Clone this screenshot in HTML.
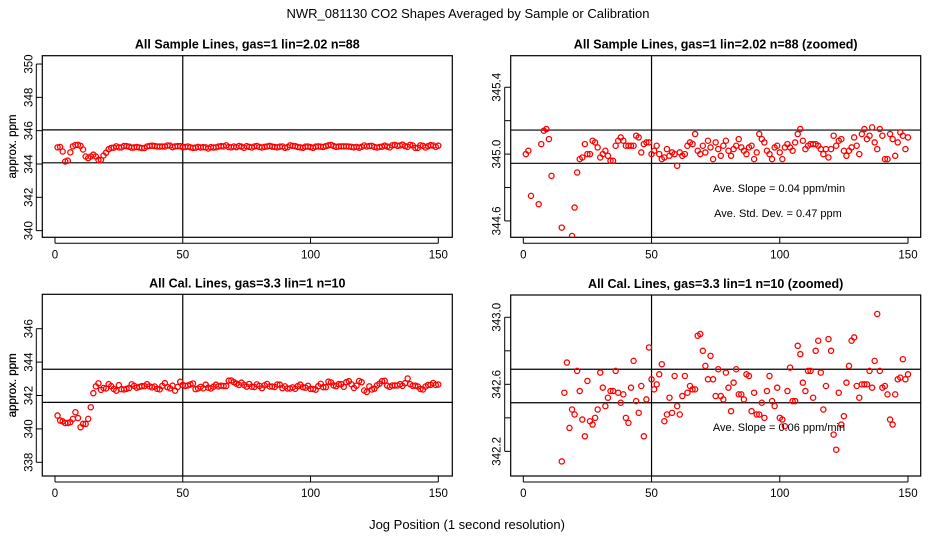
<!DOCTYPE html>
<html><head><meta charset="utf-8"><style>
html,body{margin:0;padding:0;background:#fff;width:936px;height:540px;overflow:hidden;position:relative}
svg{display:block;position:absolute;left:0;top:0;font-family:"Liberation Sans",sans-serif}
</style></head><body><svg id="chart" width="936" height="540" viewBox="0 0 936 540" xmlns="http://www.w3.org/2000/svg">
<text x="468" y="18" text-anchor="middle" font-size="13">NWR_081130  CO2 Shapes Averaged by Sample or Calibration</text>
<text x="467" y="529" text-anchor="middle" font-size="13">Jog Position (1 second resolution)</text>
<g id="plots"></g>
</svg><script>
const sampleValues=[345.00,345.02,344.75,344.15,344.20,344.70,345.06,345.14,345.15,345.09,344.87,344.45,344.35,344.45,344.56,344.45,344.25,344.25,344.51,344.68,344.89,344.97,344.98,345.06,345.00,345.00,345.08,345.07,345.04,344.98,345.00,345.02,344.99,344.96,344.96,345.05,345.08,345.10,345.08,345.05,345.05,345.05,345.05,345.11,345.10,345.01,345.06,345.07,345.07,345.00,345.02,345.05,345.00,344.97,344.98,345.03,344.99,345.01,345.00,344.93,345.01,344.99,345.00,345.05,345.07,345.06,345.12,345.02,345.00,345.05,345.01,345.08,345.04,344.97,345.07,345.03,344.99,345.05,345.08,345.02,344.99,345.03,345.05,345.09,345.04,345.02,345.00,345.04,345.05,344.97,345.01,345.12,345.09,345.07,345.02,345.00,344.97,345.04,345.05,345.01,344.97,345.04,345.06,345.04,345.02,345.07,345.12,345.15,345.08,345.03,345.05,345.06,345.06,345.06,345.05,345.03,345.00,345.03,344.98,345.03,345.11,345.05,345.08,345.09,345.02,344.99,345.02,345.04,345.10,345.05,345.00,345.12,345.15,345.09,345.11,345.16,345.07,345.03,345.15,345.11,344.97,344.97,345.12,345.09,344.99,345.07,345.13,345.11,345.03,345.10];
const calValues=[340.8,340.5,340.45,340.35,340.35,340.4,340.6,341.0,340.65,340.1,340.3,340.3,340.6,341.3,342.14,342.55,342.73,342.34,342.45,342.42,342.68,342.56,342.39,342.29,342.62,342.38,342.36,342.40,342.45,342.67,342.58,342.47,342.52,342.56,342.56,342.68,342.55,342.49,342.54,342.40,342.37,342.58,342.74,342.50,342.43,342.59,342.29,342.51,342.82,342.63,342.57,342.60,342.66,342.72,342.38,342.42,342.52,342.43,342.65,342.47,342.42,342.53,342.65,342.55,342.59,342.57,342.57,342.89,342.90,342.80,342.71,342.63,342.77,342.63,342.53,342.69,342.53,342.51,342.67,342.58,342.44,342.61,342.69,342.54,342.54,342.51,342.66,342.65,342.44,342.55,342.42,342.42,342.49,342.40,342.56,342.65,342.50,342.47,342.58,342.40,342.39,342.35,342.56,342.70,342.50,342.50,342.83,342.78,342.61,342.56,342.68,342.68,342.52,342.80,342.86,342.67,342.45,342.59,342.87,342.80,342.30,342.21,342.55,342.36,342.41,342.61,342.71,342.86,342.88,342.59,342.52,342.60,342.60,342.60,342.68,342.58,342.74,343.02,342.68,342.58,342.59,342.54,342.39,342.36,342.54,342.63,342.64,342.75,342.63,342.66];
const xTicks=[0,50,100,150];
const sampleTicks=[340,342,344,346,348,350];
const sampleZoomTicks=[344.6,344.8,345.0,345.2,345.4];
const sampleZoomLabels=["344.6","","345.0","","345.4"];
const calTicks=[338,340,342,344,346];
const calZoomTicks=[342.2,342.4,342.6,342.8,343.0];
const calZoomLabels=["342.2","","342.6","","343.0"];
const sampleHLines=[346.05,344.07];
const sampleZoomHLines=[345.144,344.945];
const calHLines=[343.57,341.59];
const calZoomHLines=[342.69,342.49];
const vLine=50;

const NS="http://www.w3.org/2000/svg";
const root=document.getElementById('plots');
function mk(tag,attrs,parent){const e=document.createElementNS(NS,tag);for(const k in attrs)e.setAttribute(k,attrs[k]);(parent||root).appendChild(e);return e;}

const panels=[
 {id:'sample',title:'All Sample Lines, gas=1 lin=2.02 n=88',box:[42.3,55.7,452.3,237.3],x0:55,x150:438.3,ylim:[339.6,350.5],ticks:sampleTicks,labels:sampleTicks.map(String),hl:sampleHLines,vals:sampleValues,notes:[]},
 {id:'sample-zoomed',title:'All Sample Lines, gas=1 lin=2.02 n=88 (zoomed)',box:[510.7,55.7,920.7,237.3],x0:523.3,x150:908,ylim:[344.502,345.589],ticks:sampleZoomTicks,labels:sampleZoomLabels,hl:sampleZoomHLines,vals:sampleValues,notes:[['Ave. Slope =  0.04  ppm/min',779,192],['Ave. Std. Dev. =  0.47  ppm',778,217]]},
 {id:'cal',title:'All Cal. Lines, gas=3.3 lin=1 n=10',box:[42.3,294.3,452.3,476],x0:55,x150:438.3,ylim:[337.18,348.06],ticks:calTicks,labels:calTicks.map(String),hl:calHLines,vals:calValues,notes:[]},
 {id:'cal-zoomed',title:'All Cal. Lines, gas=3.3 lin=1 n=10 (zoomed)',box:[510.7,295,920.7,476],x0:523.3,x150:908,ylim:[342.053,343.133],ticks:calZoomTicks,labels:calZoomLabels,hl:calZoomHLines,vals:calValues,notes:[['Ave. Slope =  0.06  ppm/min',779,431]]}
];

panels.forEach((p,pi)=>{
 const [l,t,r,b]=p.box;
 const xs=v=>p.x0+(v/150)*(p.x150-p.x0);
 const ys=v=>b-(v-p.ylim[0])/(p.ylim[1]-p.ylim[0])*(b-t);
 const g=mk('g',{});
 
 
 const ti=mk('text',{x:(l+r)/2,y:t-7,'text-anchor':'middle','font-size':12.5,'font-weight':'bold'},g);
 ti.textContent=p.title;
 
 
 const yl=mk('text',{transform:`translate(16,${(t+b)/2}) rotate(-90)`,'text-anchor':'middle','font-size':11.5},g);
 yl.textContent='approx. ppm';
 
 
 const clipId='clip'+pi;
 const cp=mk('clipPath',{id:clipId},g);
 mk('rect',{x:l,y:t,width:r-l,height:b-t},cp);
 p.ticks.forEach((v,i)=>{
  const y=ys(v);
  mk('line',{x1:l-6,x2:l,y1:y,y2:y,stroke:'#000','stroke-width':1},g);
  if(p.labels[i]){
   const tx=mk('text',{transform:`translate(${l-10},${y}) rotate(-90)`,'text-anchor':'middle','font-size':11.5},g);
   tx.textContent=p.labels[i];
   
   
  }
 });
 xTicks.forEach(v=>{
  const x=xs(v);
  mk('line',{x1:x,x2:x,y1:b,y2:b+6,stroke:'#000','stroke-width':1},g);
  const tx=mk('text',{x:x,y:b+21,'text-anchor':'middle','font-size':11.5},g);
  tx.textContent=String(v);
  
  
 });
 mk('line',{x1:xs(xTicks[0]),x2:xs(xTicks[xTicks.length-1]),y1:b+6,y2:b+6,stroke:'#000','stroke-width':1},g);
 mk('line',{x1:l-6,x2:l-6,y1:ys(p.ticks[0]),y2:ys(p.ticks[p.ticks.length-1]),stroke:'#000','stroke-width':1},g);
 const frame=mk('rect',{x:l,y:t,width:r-l,height:b-t,fill:'none',stroke:'#000','stroke-width':1.2},g);
 
 
 p.hl.forEach(v=>{
  const ln=mk('line',{x1:l,x2:r,y1:ys(v),y2:ys(v),stroke:'#000','stroke-width':1.2},g);
  
  
 });
 const vl=mk('line',{x1:xs(vLine),x2:xs(vLine),y1:t,y2:b,stroke:'#000','stroke-width':1.2},g);
 
 
 const pg=mk('g',{'clip-path':`url(#${clipId})`},g);
 p.vals.forEach((v,i)=>{
  const c=mk('circle',{cx:xs(i+1),cy:ys(v),r:2.6,fill:'none',stroke:'#f00','stroke-width':1.3},pg);
  
  
 });
 p.notes.forEach(n=>{
  const tx=mk('text',{x:n[1],y:n[2],'text-anchor':'middle','font-size':11},g);
  tx.textContent=n[0];
  
  
 });
});
</script></body></html>
